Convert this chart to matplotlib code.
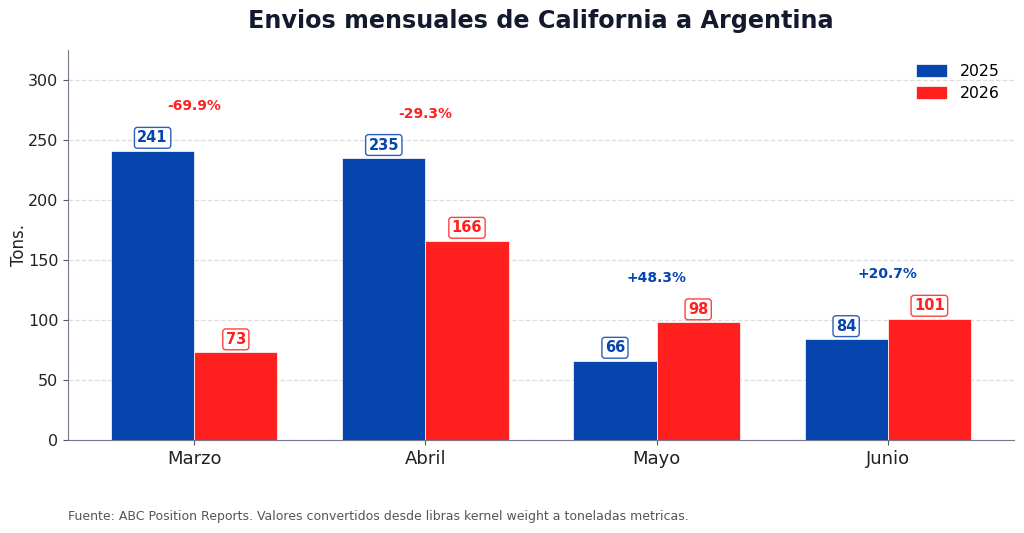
import matplotlib
matplotlib.use("Agg")
import matplotlib.pyplot as plt
import numpy as np

categories = ["Marzo", "Abril", "Mayo", "Junio"]
series_2025 = [241, 235, 66, 84]
series_2026 = [73, 166, 98, 101]
pct_labels = ["-69.9%", "-29.3%", "+48.3%", "+20.7%"]
series_names = ["2025", "2026"]

BLUE = "#0645AD"
RED = "#FF1F1F"

fig = plt.figure(figsize=(10.24, 5.33), dpi=100)
ax = fig.add_axes([0.0664, 0.1745, 0.9238, 0.7315])

x = np.arange(len(categories))
w = 0.36
b1 = ax.bar(x - w / 2, series_2025, w, color=BLUE, edgecolor="white", linewidth=0.5,
            label=series_names[0], zorder=3)
b2 = ax.bar(x + w / 2, series_2026, w, color=RED, edgecolor="white", linewidth=0.5,
            label=series_names[1], zorder=3)

for bars, vals, col in ((b1, series_2025, BLUE), (b2, series_2026, RED)):
    for rect, v in zip(bars, vals):
        ax.annotate(f"{v}", (rect.get_x() + rect.get_width() / 2, v),
                    xytext=(0, 4), textcoords="offset points", ha="center", va="bottom",
                    fontsize=10.5, fontweight="bold", color=col, zorder=5,
                    bbox=dict(boxstyle="round,pad=0.2", fc="white", ec=col, lw=1, alpha=0.85))

for i, lab in enumerate(pct_labels):
    top = max(series_2025[i], series_2026[i])
    col = RED if lab.startswith("-") else BLUE
    ax.text(x[i], top + 37, lab, ha="center", va="center", fontsize=10,
            fontweight="bold", color=col)

ax.set_ylim(0, 325)
ax.set_xticks(x)
ax.set_xticklabels(categories, fontsize=13, color="#222222")
ax.set_yticks(np.arange(0, 301, 50))
ax.tick_params(axis="y", labelsize=11.5, colors="#222222")
ax.tick_params(axis="both", color="#555566")
ax.set_ylabel("Tons.", fontsize=12, color="#222222", labelpad=0)
ax.yaxis.grid(True, linestyle="--", color="#dddddd", linewidth=0.9, zorder=0)
ax.set_axisbelow(True)
for s in ("top", "right"):
    ax.spines[s].set_visible(False)
for s in ("left", "bottom"):
    ax.spines[s].set_color("#777788")

ax.legend(loc="upper right", frameon=False, fontsize=11.3, handlelength=2.0,
          handleheight=0.9, labelspacing=0.45, borderaxespad=0.5)

fig.text(541 / 1024, 0.96, "Envios mensuales de California a Argentina", fontsize=17.2,
         fontweight="bold", color="#141a2e", ha="center", va="center")
fig.text(0.0664, 0.025, "Fuente: ABC Position Reports. Valores convertidos desde libras kernel weight a toneladas metricas.",
         fontsize=9.0, color="#555555")

fig.savefig("out.png", dpi=100)
